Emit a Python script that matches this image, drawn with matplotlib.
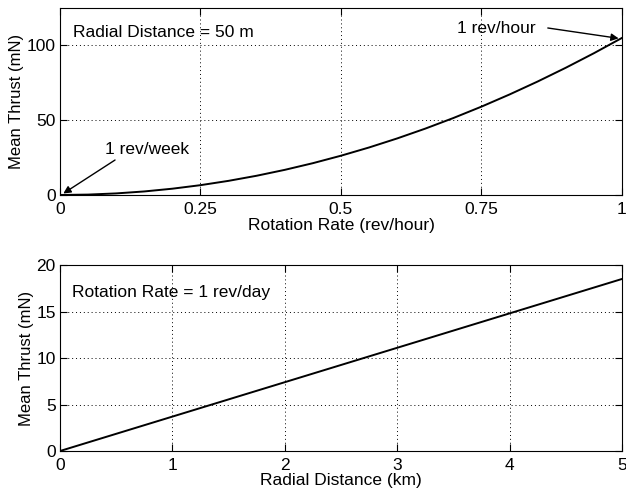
import matplotlib
matplotlib.use("Agg")
import matplotlib.pyplot as plt

# Top panel: mean thrust vs rotation rate (radial distance 50 m)
rate_rev_per_hour = [0.0, 0.05, 0.10, 0.15, 0.20, 0.25, 0.30, 0.35, 0.40, 0.45, 0.50,
                     0.55, 0.60, 0.65, 0.70, 0.75, 0.80, 0.85, 0.90, 0.95, 1.0]
thrust_top_mN = [0.0, 0.26, 1.05, 2.36, 4.2, 6.56, 9.45, 12.86, 16.8, 21.26, 26.25,
                 31.76, 37.8, 44.36, 51.45, 59.06, 67.2, 75.86, 85.05, 94.76, 105.0]

# Bottom panel: mean thrust vs radial distance (rotation rate 1 rev/day)
radial_km = [0.0, 5.0]
thrust_bottom_mN = [0.0, 18.5]

top_xticks = [0, 0.25, 0.5, 0.75, 1]
top_xticklabels = ["0", "0.25", "0.5", "0.75", "1"]
top_yticks = [0, 50, 100]
bot_xticks = [0, 1, 2, 3, 4, 5]
bot_yticks = [0, 5, 10, 15, 20]

week_point = (1 / 168, 1.0)
hour_point = (0.994, 104.7)

FS = 12.5
plt.rcParams['font.family'] = ['Liberation Sans', 'DejaVu Sans']
plt.rcParams['font.size'] = FS

fig = plt.figure(figsize=(6.26, 4.96), dpi=100)
ax1 = fig.add_axes([0.0958, 0.6069, 0.8978, 0.3770])
ax2 = fig.add_axes([0.0958, 0.0907, 0.8978, 0.3750])

for ax in (ax1, ax2):
    ax.grid(True, color='black', linestyle=(0, (1, 3)), linewidth=0.7)
    ax.tick_params(direction='in', top=True, right=True, length=5, width=0.8,
                   labelsize=FS, colors='black')
    ax.tick_params(axis='x', pad=5)
    ax.tick_params(axis='y', pad=3)
    for s in ax.spines.values():
        s.set_linewidth(0.8)

ax1.plot(rate_rev_per_hour, thrust_top_mN, color='black', linewidth=1.4)
ax1.set_xlim(0, 1)
ax1.set_ylim(0, 125)
ax1.set_xticks(top_xticks)
ax1.set_xticklabels(top_xticklabels)
ax1.set_yticks(top_yticks)
ax1.set_xlabel("Rotation Rate (rev/hour)", fontsize=FS, labelpad=1)
ax1.set_ylabel("Mean Thrust (mN)", fontsize=12, labelpad=2)
ax1.text(0.023, 0.87, "Radial Distance = 50 m", transform=ax1.transAxes,
         fontsize=FS, va='center', ha='left')

arrow_kw = dict(arrowstyle='-|>', color='black', lw=1.0,
                shrinkA=0, shrinkB=0, mutation_scale=11)
ax1.text(0.080, 0.241, "1 rev/week", transform=ax1.transAxes,
         fontsize=FS, ha='left', va='center')
ax1.annotate("", xy=week_point, xytext=(0.098, 0.187),
             textcoords='axes fraction', arrowprops=arrow_kw)
ax1.text(0.706, 0.888, "1 rev/hour", transform=ax1.transAxes,
         fontsize=FS, ha='left', va='center')
ax1.annotate("", xy=hour_point, xytext=(0.868, 0.893),
             textcoords='axes fraction', arrowprops=arrow_kw)

ax2.plot(radial_km, thrust_bottom_mN, color='black', linewidth=1.4)
ax2.set_xlim(0, 5)
ax2.set_ylim(0, 20)
ax2.set_xticks(bot_xticks)
ax2.set_yticks(bot_yticks)
ax2.set_xlabel("Radial Distance (km)", fontsize=FS, labelpad=0)
ax2.set_ylabel("Mean Thrust (mN)", fontsize=12, labelpad=2)
ax2.text(0.021, 0.85, "Rotation Rate = 1 rev/day", transform=ax2.transAxes,
         fontsize=FS, va='center', ha='left')

fig.savefig("out.png", dpi=100)
